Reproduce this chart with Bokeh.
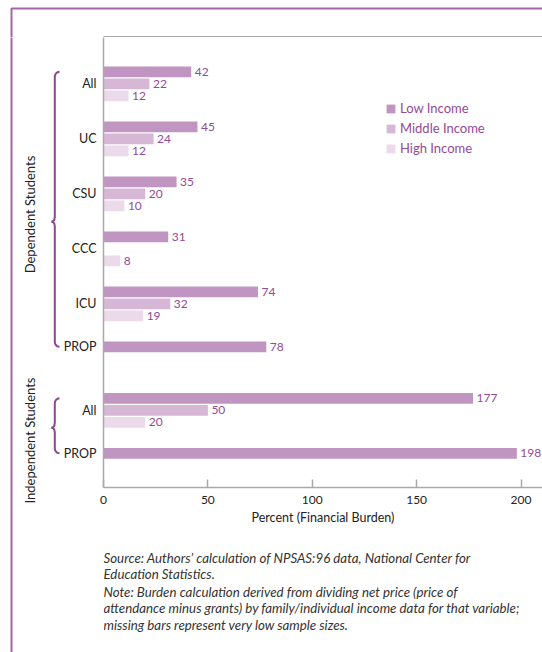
import math
from bokeh.plotting import figure
from bokeh.layouts import column, row
from bokeh.models import Range1d, FixedTicker, Legend, LegendItem, ColumnDataSource
from bokeh.core.properties import value
from bokeh.embed import file_html
from bokeh.resources import INLINE

# ---------------- data ----------------
groups = ["All", "UC", "CSU", "CCC", "ICU", "PROP", "All", "PROP"]
sections = ["Dependent Students"] * 6 + ["Independent Students"] * 2
low_income = [42, 45, 35, 31, 74, 78, 177, 198]
middle_income = [22, 24, 20, None, 32, None, 50, None]
high_income = [12, 12, 10, 8, 19, None, 20, None]
series_names = ["Low Income", "Middle Income", "High Income"]
x_ticks = [0, 50, 100, 150, 200]
x_title = "Percent (Financial Burden)"
notes = [
    "Source: Authors\u2019 calculation of NPSAS:96 data, National Center for",
    "Education Statistics.",
    "Note: Burden calculation derived from dividing net price (price of",
    "attendance minus grants) by family/individual income data for that variable;",
    "missing bars represent very low sample sizes.",
]

# ---------------- style / layout ----------------
FONT = "Lato"
BAR_COLORS = ["#c195c1", "#d6b8d6", "#eadaea"]
PURPLE_TXT = "#944a96"
BORDER = "#a862ad"
BRACE = "#8e4592"
GRAY = "#aaaaaa"
TXT = "#222222"

PAGE_W, PAGE_H = 542, 652
TOP_H = 37          # strip above the plot frame
MID_H = 495         # main chart height
BOT_H = PAGE_H - TOP_H - MID_H
LEFT_W = 60         # braces column
MAIN_W = PAGE_W - LEFT_W
MAIN_BL = 43        # main figure left border (category labels)
MAIN_BB = 45        # main figure bottom border (x axis)
FRAME_L = LEFT_W + MAIN_BL
Y_TOP = -0.624      # data value at top of frame
PX_UNIT = 55.0      # pixels per group slot
FRAME_H = MID_H - MAIN_BB
Y_BOT = Y_TOP + FRAME_H / PX_UNIT
X_END = (MAIN_W - MAIN_BL) / 2.0875

BAR_STEP = 0.218
BAR_H = 0.195
IND_SHIFT = -0.064


def common(fig):
    fig.outline_line_color = None
    fig.background_fill_color = "white"
    fig.border_fill_color = "white"
    return fig


def page_to_y(py):
    return Y_TOP + (py - TOP_H) / PX_UNIT


series = [low_income, middle_income, high_income]
pos = [i + (IND_SHIFT if sections[i] != sections[0] else 0.0) for i in range(len(groups))]

# ---------------- main chart ----------------
p = common(figure(width=MAIN_W, height=MID_H, output_backend="svg", toolbar_location=None,
                  x_range=Range1d(0, X_END), y_range=Range1d(Y_BOT, Y_TOP),
                  min_border_left=MAIN_BL, min_border_top=0, min_border_bottom=MAIN_BB,
                  min_border_right=0))
p.xgrid.visible = False
p.ygrid.visible = False

renderers = []
for k, vals in enumerate(series):
    ys, vs, ts = [], [], []
    for i, v in enumerate(vals):
        if v is None:
            continue
        ys.append(round(pos[i] + k * BAR_STEP, 4))
        vs.append(v)
        ts.append(str(v))
    src = ColumnDataSource(dict(y=ys, v=vs, t=ts))
    r = p.hbar(y="y", left=0, right="v", height=BAR_H, source=src,
               fill_color=BAR_COLORS[k], line_color=None)
    renderers.append(r)
    p.text(x="v", y="y", text="t", source=src, x_offset=3.5, text_baseline="middle",
           text_font=value(FONT), text_font_size="12px", text_color=PURPLE_TXT)

label_pos = []
overrides = {}
for i, g in enumerate(groups):
    has_more = middle_income[i] is not None or high_income[i] is not None
    lp = round(pos[i] + (BAR_STEP if has_more else 0.0), 4)
    label_pos.append(lp)
    overrides[lp] = g
p.yaxis.ticker = FixedTicker(ticks=label_pos)
p.yaxis.major_label_overrides = overrides
p.yaxis.major_tick_in = 0
p.yaxis.major_tick_out = 0
p.yaxis.minor_tick_line_color = None
p.yaxis.axis_line_color = GRAY
p.yaxis.axis_line_width = 1.5
p.yaxis.major_label_standoff = 7
p.yaxis.major_label_text_font = FONT
p.yaxis.major_label_text_font_size = "12.5px"
p.yaxis.major_label_text_color = TXT

p.xaxis.ticker = FixedTicker(ticks=x_ticks)
p.xaxis.major_tick_in = 8
p.xaxis.major_tick_out = 0
p.xaxis.major_tick_line_color = GRAY
p.xaxis.major_tick_line_width = 1.5
p.xaxis.minor_tick_line_color = None
p.xaxis.axis_line_color = GRAY
p.xaxis.axis_line_width = 1.5
p.xaxis.major_label_standoff = 8
p.xaxis.major_label_text_font = FONT
p.xaxis.major_label_text_font_size = "12px"
p.xaxis.major_label_text_color = TXT
p.xaxis.axis_label = x_title
p.xaxis.axis_label_text_font = FONT
p.xaxis.axis_label_text_font_style = "normal"
p.xaxis.axis_label_text_font_size = "12.5px"
p.xaxis.axis_label_text_color = TXT
p.xaxis.axis_label_standoff = 3

legend = Legend(items=[LegendItem(label=n, renderers=[r]) for n, r in zip(series_names, renderers)],
                location=(282, 331), padding=0, margin=0, spacing=4,
                glyph_width=11, glyph_height=11, label_standoff=4,
                label_text_font=FONT, label_text_font_size="13px", label_text_color=PURPLE_TXT,
                border_line_color=None, background_fill_alpha=0)
p.add_layout(legend, "center")

# ---------------- top strip (full width): outer border + top frame line ----------------
top = common(figure(width=PAGE_W, height=TOP_H, output_backend="svg", toolbar_location=None,
                    x_range=Range1d(0, PAGE_W), y_range=Range1d(TOP_H, 0),
                    x_axis_type=None, y_axis_type=None, min_border=0))
top.line(x=[11, 11, PAGE_W + 2], y=[TOP_H + 2, 8, 8], line_color=BORDER, line_width=2)
top.line(x=[FRAME_L, PAGE_W], y=[TOP_H - 0.75, TOP_H - 0.75], line_color=GRAY, line_width=1.5)

# ---------------- left strip: outer border, braces, section titles ----------------
left_h = PAGE_H - TOP_H
left = common(figure(width=LEFT_W, height=left_h, output_backend="svg", toolbar_location=None,
                     x_range=Range1d(0, LEFT_W), y_range=Range1d(page_to_y(PAGE_H), page_to_y(TOP_H)),
                     x_axis_type=None, y_axis_type=None, min_border=0))
left.line(x=[11, 11], y=[page_to_y(TOP_H - 2), page_to_y(PAGE_H + 2)],
          line_color=BORDER, line_width=2)


def brace(y0, y1, frac, xr=54.3, rx=4.7, r_px=5.0):
    ry = r_px / PX_UNIT
    ym = y0 + frac * (y1 - y0)
    xs, ys = [], []
    for j in range(7):
        t = math.radians(90 + 15 * j)
        xs.append(xr + rx + rx * math.cos(t))
        ys.append(y0 + ry - ry * math.sin(t))
    c = 0.085
    xs += [xr, xr - 0.5, xr - 1.5, xr - 3.2, xr - 1.5, xr - 0.5, xr]
    ys += [ym - c, ym - 0.035, ym - 0.012, ym, ym + 0.012, ym + 0.035, ym + c]
    for j in range(7):
        t = math.radians(180 + 15 * j)
        xs.append(xr + rx + rx * math.cos(t))
        ys.append(y1 - ry - ry * math.sin(t))
    return xs, ys


dep_idx = [i for i, s in enumerate(sections) if s == sections[0]]
ind_idx = [i for i, s in enumerate(sections) if s != sections[0]]
for idx, frac in ((dep_idx, 0.545), (ind_idx, 0.535)):
    bx, by = brace(pos[idx[0]], label_pos[idx[-1]], frac)
    left.line(x=bx, y=by, line_color=BRACE, line_width=2)

left.text(x=[29, 29], y=[page_to_y(214), page_to_y(440)], text=[sections[0], sections[-1]],
          angle=math.pi / 2, text_align="center", text_baseline="middle",
          text_font=value(FONT), text_font_size="13px", text_color=TXT)

# ---------------- notes (frame aligned with main chart frame) ----------------
y0n = TOP_H + MID_H
bot = common(figure(width=MAIN_W, height=BOT_H, output_backend="svg", toolbar_location=None,
                    x_range=Range1d(FRAME_L, PAGE_W), y_range=Range1d(y0n + BOT_H, y0n),
                    x_axis_type=None, y_axis_type=None, min_border=0))
note_y = [557, 573.5, 591, 607.5, 624]
bot.text(x=[FRAME_L] * len(notes), y=note_y, text=notes, text_align="left",
         text_baseline="middle", text_font=value(FONT), text_font_style="italic",
         text_font_size="13.3px", text_color="#333333")

layout = column(top, row(left, column(p, bot)))
open("out.html", "w").write(file_html(layout, INLINE))
